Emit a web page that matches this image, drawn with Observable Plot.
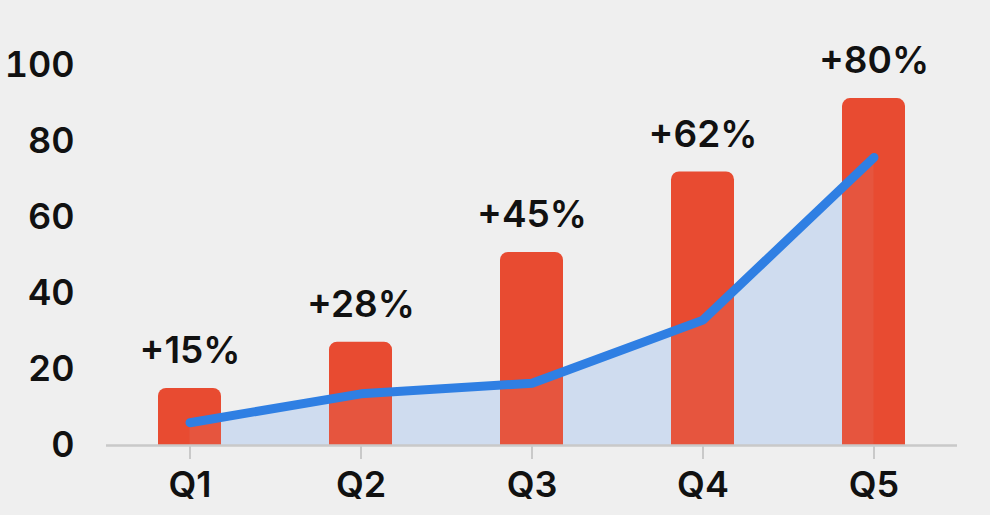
<!DOCTYPE html>
<html>
<head>
<meta charset="utf-8">
<script src="https://cdn.jsdelivr.net/npm/d3@7"></script>
<script src="https://cdn.jsdelivr.net/npm/@observablehq/plot@0.6"></script>
<style>
  html, body { margin: 0; padding: 0; background: #efefef; }
  #chart { width: 990px; height: 515px; }
  #chart svg { display: block; }
</style>
</head>
<body>
<div id="chart"></div>
<script>
const quarters = ["Q1", "Q2", "Q3", "Q4", "Q5"];
const barValues = [15, 27.2, 50.8, 72, 91.3];
const lineValues = [6, 13.6, 16.4, 33, 75.8];
const growthLabels = ["+15%", "+28%", "+45%", "+62%", "+80%"];
const yTicks = [0, 20, 40, 60, 80, 100];

const data = quarters.map((q, i) => ({q, bar: barValues[i], line: lineValues[i], label: growthLabels[i]}));

const chart = Plot.plot({
  width: 990,
  height: 515,
  marginLeft: 106,
  marginRight: 33,
  marginTop: 65,
  marginBottom: 70,
  style: {background: "#efefef", fontFamily: "Inter, sans-serif", color: "#111"},
  x: {domain: quarters, paddingInner: 0.63, paddingOuter: 0.3, label: null},
  y: {domain: [0, 100], label: null},
  marks: [
    Plot.areaY(data, {x: "q", y: "line", fill: "#cfdcef"}),
    Plot.barY(data, {x: "q", y: "bar", fill: "#e84b31", rx: 8, insetBottom: -12, clip: true}),
    Plot.areaY(data, {x: "q", y: "line", fill: "#d8e3f3", fillOpacity: 0.07}),
    Plot.ruleY([0], {stroke: "#c9c9c9", strokeWidth: 2.5}),
    Plot.lineY(data, {x: "q", y: "line", stroke: "#2f7fe3", strokeWidth: 9, strokeLinecap: "round", strokeLinejoin: "round"}),
    Plot.text(data, {x: "q", y: "bar", text: "label", dy: -37, fontSize: 37, fontWeight: 600, fill: "#111"}),
    Plot.axisY({ticks: yTicks, tickSize: 0, tickPadding: 32, fontSize: 36, fontWeight: 600, fill: "#111", label: null}),
    Plot.axisX({tickSize: 14, tickPadding: 12, fontSize: 36, fontWeight: 600, stroke: "#c9c9c9", strokeWidth: 2, fill: "#111", label: null})
  ]
});
document.getElementById("chart").appendChild(chart);
</script>
</body>
</html>
